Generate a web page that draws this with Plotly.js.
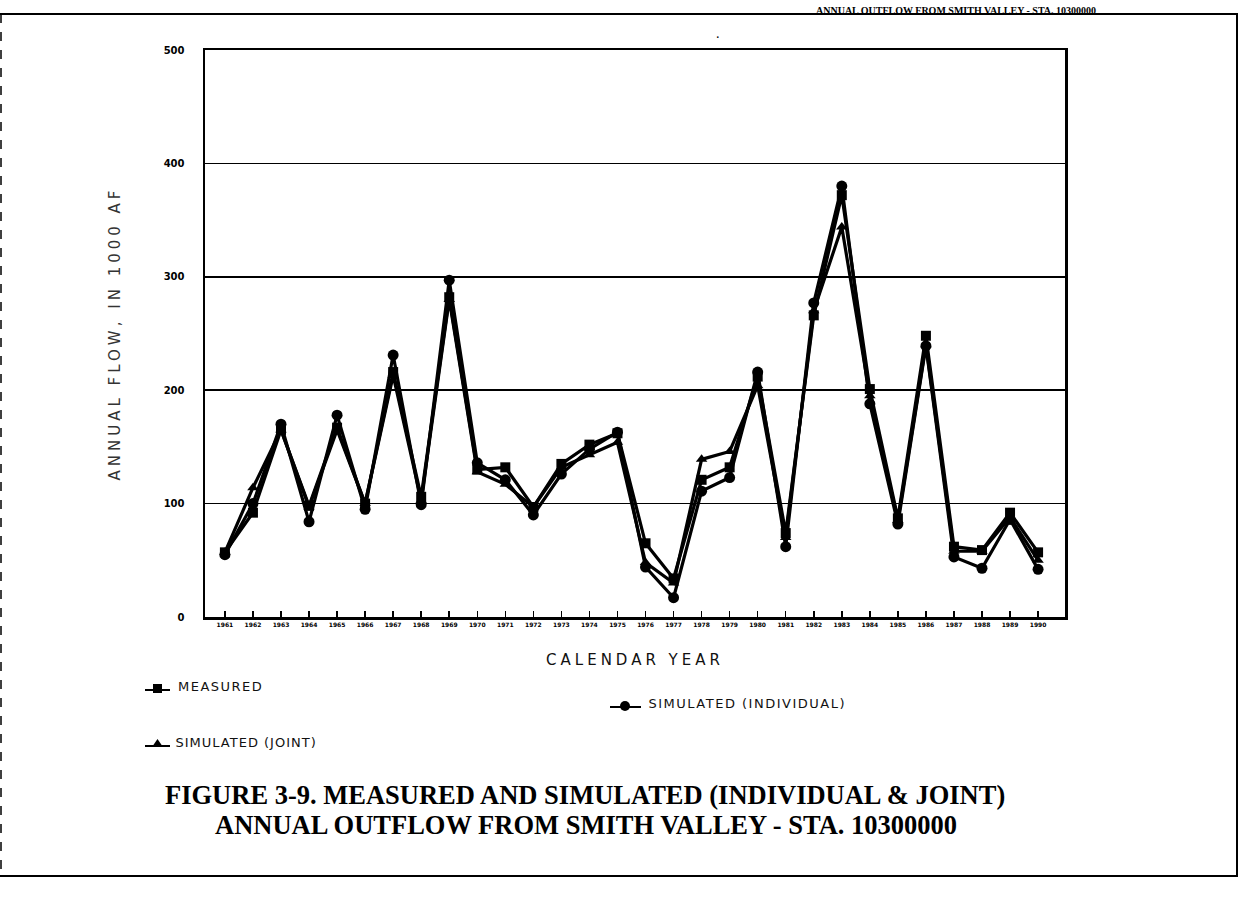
<!DOCTYPE html>
<html><head><meta charset="utf-8">
<script src="https://cdn.plot.ly/plotly-3.0.1.min.js"></script>
<style>
body{margin:0;background:#fff}
#chart{width:1244px;height:898px}
.xtitle{letter-spacing:4px}
.ytitle{letter-spacing:4px}
g.annotation[data-index="4"] text{letter-spacing:1.5px}
g.annotation[data-index="5"] text{letter-spacing:1.5px}
g.annotation[data-index="6"] text{letter-spacing:1px}
</style></head><body><div id="chart"></div>
<script>
const years = [1961,1962,1963,1964,1965,1966,1967,1968,1969,1970,1971,1972,1973,1974,1975,1976,1977,1978,1979,1980,1981,1982,1983,1984,1985,1986,1987,1988,1989,1990];
const measured = [57,92,165,98,167,100,216,106,282,130,132,97,135,152,162,65,34,121,132,212,74,266,372,201,87,248,62,59,92,57];
const simIndividual = [55,100,170,84,178,95,231,99,297,136,121,90,126,148,163,44,17,111,123,216,62,277,380,188,82,239,53,43,86,42];
const simJoint = [57,114,165,97,165,100,213,103,280,128,117,97,132,143,154,48,30,139,146,204,70,270,344,195,85,240,58,58,88,50];
const yTicks = [0,100,200,300,400,500];
const legendNames = ['MEASURED','SIMULATED (INDIVIDUAL)','SIMULATED (JOINT)'];

const L=205,R=1065,T=50,B=617,W=1244,H=898;
const px=x=>(x-L)/(R-L), py=y=>(B-y)/(B-T);
const lineStyle={color:'#000',width:3.2};

const traces=[
 {x:years,y:simJoint,name:legendNames[2],mode:'lines+markers',line:lineStyle,marker:{symbol:'triangle-up',size:10,color:'#000'}},
 {x:years,y:measured,name:legendNames[0],mode:'lines+markers',line:lineStyle,marker:{symbol:'square',size:10,color:'#000'}},
 {x:years,y:simIndividual,name:legendNames[1],mode:'lines+markers',line:lineStyle,marker:{symbol:'circle',size:11,color:'#000'}}
];

function seg(x0,x1,y){
  return {type:'line',xref:'paper',yref:'paper',x0:px(x0),x1:px(x1),y0:py(y),y1:py(y),line:{color:'#000',width:2}};
}
const bk={color:'#000',width:0};
const shapes=[
 {type:'line',xref:'paper',yref:'paper',x0:px(0),x1:px(1238),y0:py(14),y1:py(14),line:{color:'#000',width:2}},
 {type:'line',xref:'paper',yref:'paper',x0:px(1237),x1:px(1237),y0:py(14),y1:py(876),line:{color:'#000',width:2}},
 {type:'line',xref:'paper',yref:'paper',x0:px(0),x1:px(1238),y0:py(876),y1:py(876),line:{color:'#000',width:2}},
 {type:'line',xref:'paper',yref:'paper',x0:px(1),x1:px(1),y0:py(14),y1:py(876),line:{color:'#000',width:1.5,dash:'dash'}},
 seg(145,170,690),seg(610,641,707),seg(145,170,746),
 {type:'rect',xref:'paper',yref:'paper',x0:px(153),x1:px(162),y0:py(684),y1:py(693),fillcolor:'#000',line:bk},
 {type:'circle',xref:'paper',yref:'paper',x0:px(620),x1:px(630),y0:py(701),y1:py(711),fillcolor:'#000',line:bk},
 {type:'path',xref:'paper',yref:'paper',path:`M ${px(152)} ${py(747)} L ${px(163)} ${py(747)} L ${px(157.5)} ${py(739)} Z`,fillcolor:'#000',line:bk}
];

const annotations=[
 {xref:'paper',yref:'paper',x:px(585),y:py(800),yshift:-12,text:'FIGURE 3-9. MEASURED AND SIMULATED (INDIVIDUAL &amp; JOINT)',showarrow:false,font:{family:'Liberation Serif',size:26.5,color:'#000',weight:'bold'}},
 {xref:'paper',yref:'paper',x:px(586),y:py(830),yshift:-12,text:'ANNUAL OUTFLOW FROM SMITH VALLEY - STA. 10300000',showarrow:false,font:{family:'Liberation Serif',size:26.5,color:'#000',weight:'bold'}},
 {xref:'paper',yref:'paper',x:px(1098),y:py(13),yshift:-5,xanchor:'right',yanchor:'bottom',text:'ANNUAL OUTFLOW FROM SMITH VALLEY - STA. 10300000',showarrow:false,font:{family:'Liberation Serif',size:10,color:'#000',weight:'bold'}},
 {xref:'paper',yref:'paper',x:px(718),y:py(24),text:'.',showarrow:false,font:{family:'Liberation Serif',size:14,color:'#000'}},
 {xref:'paper',yref:'paper',x:px(182),y:py(686),yshift:-10,xanchor:'left',text:legendNames[0],showarrow:false,font:{family:'DejaVu Sans',size:13,color:'#111'}},
 {xref:'paper',yref:'paper',x:px(663),y:py(703),yshift:-10,xanchor:'left',text:legendNames[1],showarrow:false,font:{family:'DejaVu Sans',size:13,color:'#111'}},
 {xref:'paper',yref:'paper',x:px(182),y:py(742),yshift:-10,xanchor:'left',text:legendNames[2],showarrow:false,font:{family:'DejaVu Sans',size:13,color:'#111'}}
];

const layout={
 width:W,height:H,margin:{l:L,r:W-R,t:T,b:H-B},
 paper_bgcolor:'#fff',plot_bgcolor:'#fff',showlegend:false,
 xaxis:{range:[1960.29,1990.96],tickmode:'array',tickvals:years,ticktext:years.map(String),
  ticks:'inside',ticklen:6,tickcolor:'#000',tickwidth:1.5,showgrid:false,zeroline:false,
  showline:true,linecolor:'#000',linewidth:2.5,mirror:true,
  tickfont:{family:'DejaVu Sans',size:6,color:'#000',weight:'bold'},tickangle:0,
  title:{text:'CALENDAR YEAR',font:{family:'DejaVu Sans',size:15,color:'#111'},standoff:28}},
 yaxis:{range:[0,500],tickmode:'array',tickvals:yTicks,ticktext:yTicks.map(String),
  ticks:'inside',ticklen:8,tickcolor:'#000',tickwidth:1.5,showgrid:true,gridcolor:'#000',gridwidth:1.5,zeroline:false,
  showline:true,linecolor:'#000',linewidth:2.5,mirror:true,ticklabelstandoff:16,
  tickfont:{family:'DejaVu Sans',size:10,color:'#000',weight:'bold'},
  title:{text:'ANNUAL FLOW, IN 1000 AF',font:{family:'DejaVu Sans',size:15,color:'#333'},standoff:40}},
 shapes:shapes,annotations:annotations
};
Plotly.newPlot('chart',traces,layout,{staticPlot:true,displayModeBar:false});
</script></body></html>
